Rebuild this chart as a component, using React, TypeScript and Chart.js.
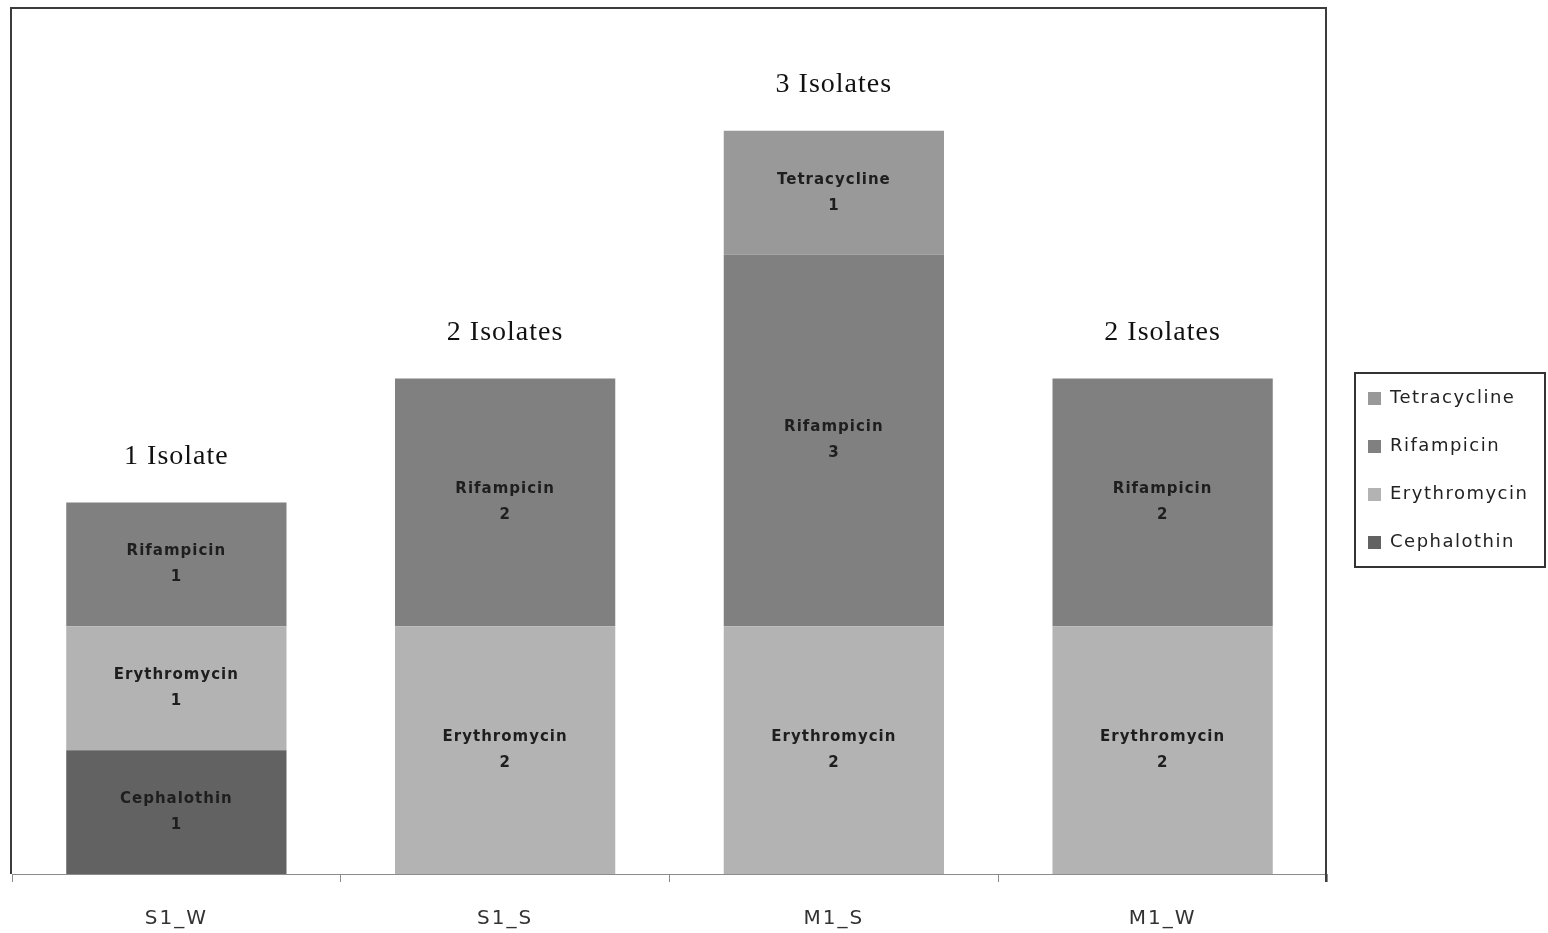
import React, { useEffect, useRef } from "react";
import { Chart, registerables } from "chart.js";

Chart.register(...registerables);

const categories = ["S1_W", "S1_S", "M1_S", "M1_W"];
const cephalothin = [1, 0, 0, 0];
const erythromycin = [1, 2, 2, 2];
const rifampicin = [1, 2, 3, 2];
const tetracycline = [0, 0, 1, 0];
const isolateLabels = ["1 Isolate", "2 Isolates", "3 Isolates", "2 Isolates"];
const seriesNames = ["Cephalothin", "Erythromycin", "Rifampicin", "Tetracycline"];
const seriesColors = ["#626262", "#b3b3b3", "#808080", "#999999"];
const yMax = 7;

const W = 1548;
const H = 933;

export default function App() {
  const ref = useRef<HTMLCanvasElement | null>(null);

  useEffect(() => {
    document.body.style.margin = "0";
    const canvas = ref.current;
    if (!canvas) return;

    const values = [cephalothin, erythromycin, rifampicin, tetracycline];

    const spacingPlugin = {
      id: "spacing",
      beforeDraw(chart: any) {
        const ctx = chart.ctx as any;
        ctx.letterSpacing = "2px";
      },
      afterDraw(chart: any) {
        const ctx = chart.ctx as any;
        ctx.letterSpacing = "0px";
      },
    };

    const framePlugin = {
      id: "frame",
      afterDatasetsDraw(chart: any) {
        const { ctx, chartArea } = chart;
        ctx.save();
        ctx.strokeStyle = "#3c3c3c";
        ctx.lineWidth = 2;
        ctx.beginPath();
        ctx.moveTo(chartArea.left - 1, chartArea.bottom);
        ctx.lineTo(chartArea.left - 1, chartArea.top + 1);
        ctx.lineTo(chartArea.right - 1, chartArea.top + 1);
        ctx.lineTo(chartArea.right - 1, chartArea.bottom + 8);
        ctx.stroke();
        ctx.restore();
      },
    };

    const labelPlugin = {
      id: "segLabels",
      afterDatasetsDraw(chart: any) {
        const ctx = chart.ctx as any;
        ctx.save();
        ctx.letterSpacing = "1px";
        ctx.font = "bold 15px 'DejaVu Sans'";
        ctx.fillStyle = "#1e1e1e";
        ctx.textAlign = "center";
        ctx.textBaseline = "middle";
        chart.data.datasets.forEach((ds: any, i: number) => {
          const meta = chart.getDatasetMeta(i);
          meta.data.forEach((bar: any, j: number) => {
            const v = ds.data[j];
            if (!v) return;
            const p = bar.getProps(["x", "y", "base"], true);
            const cy = (p.y + p.base) / 2;
            ctx.fillText(ds.label, p.x, cy - 13);
            ctx.fillText(String(v), p.x, cy + 13);
          });
        });
        // isolate labels above stacks
        const yScale = chart.scales.y;
        const xScale = chart.scales.x;
        ctx.font = "28px 'Liberation Serif'";
        ctx.fillStyle = "#111";
        ctx.letterSpacing = "1px";
        categories.forEach((_, j) => {
          let total = 0;
          chart.data.datasets.forEach((ds: any) => (total += ds.data[j] || 0));
          const x = xScale.getPixelForValue(j);
          const y = yScale.getPixelForValue(total);
          ctx.fillText(isolateLabels[j], x, y - 46);
        });
        ctx.restore();
      },
    };

    const legendPlugin = {
      id: "customLegend",
      afterDraw(chart: any) {
        const ctx = chart.ctx as any;
        ctx.save();
        ctx.letterSpacing = "1.5px";
        ctx.strokeStyle = "#333";
        ctx.lineWidth = 2;
        ctx.strokeRect(1355, 373, 190, 194);
        ctx.font = "18px 'DejaVu Sans'";
        ctx.textAlign = "left";
        ctx.textBaseline = "middle";
        const ds = chart.data.datasets.slice().reverse();
        ds.forEach((d: any, k: number) => {
          const cy = 398 + k * 48;
          ctx.fillStyle = d.backgroundColor;
          ctx.fillRect(1368, cy - 6, 13, 13);
          ctx.fillStyle = "#222";
          ctx.fillText(d.label, 1390, cy);
        });
        ctx.restore();
      },
    };

    const chart = new Chart(canvas, {
      type: "bar",
      data: {
        labels: categories,
        datasets: seriesNames.map((name, i) => ({
          label: name,
          data: values[i],
          backgroundColor: seriesColors[i],
          borderWidth: 0,
          barPercentage: 0.67,
          categoryPercentage: 1,
        })),
      },
      options: {
        responsive: false,
        animation: false,
        devicePixelRatio: 1,
        layout: { padding: { left: 12, top: 7, right: W - 1327, bottom: 0 } },
        plugins: {
          legend: { display: false },
          tooltip: { enabled: false },
          title: { display: false },
        },
        scales: {
          x: {
            stacked: true,
            border: { display: true, color: "#8c8c8c", width: 1 },
            grid: {
              display: true,
              drawOnChartArea: false,
              drawTicks: true,
              tickLength: 8,
              color: "#8c8c8c",
              offset: true,
            },
            ticks: {
              color: "#333",
              font: { family: "'DejaVu Sans'", size: 20 },
              padding: 25,
              maxRotation: 0,
            },
            afterFit(scale: any) {
              scale.height = H - 874;
            },
          },
          y: {
            stacked: true,
            display: false,
            min: 0,
            max: yMax,
          },
        },
      },
      plugins: [spacingPlugin, framePlugin, labelPlugin, legendPlugin],
    } as any);

    return () => chart.destroy();
  }, []);

  return (
    <div style={{ width: W, height: H, background: "#fff" }}>
      <canvas ref={ref} width={W} height={H} style={{ display: "block" }} />
    </div>
  );
}
